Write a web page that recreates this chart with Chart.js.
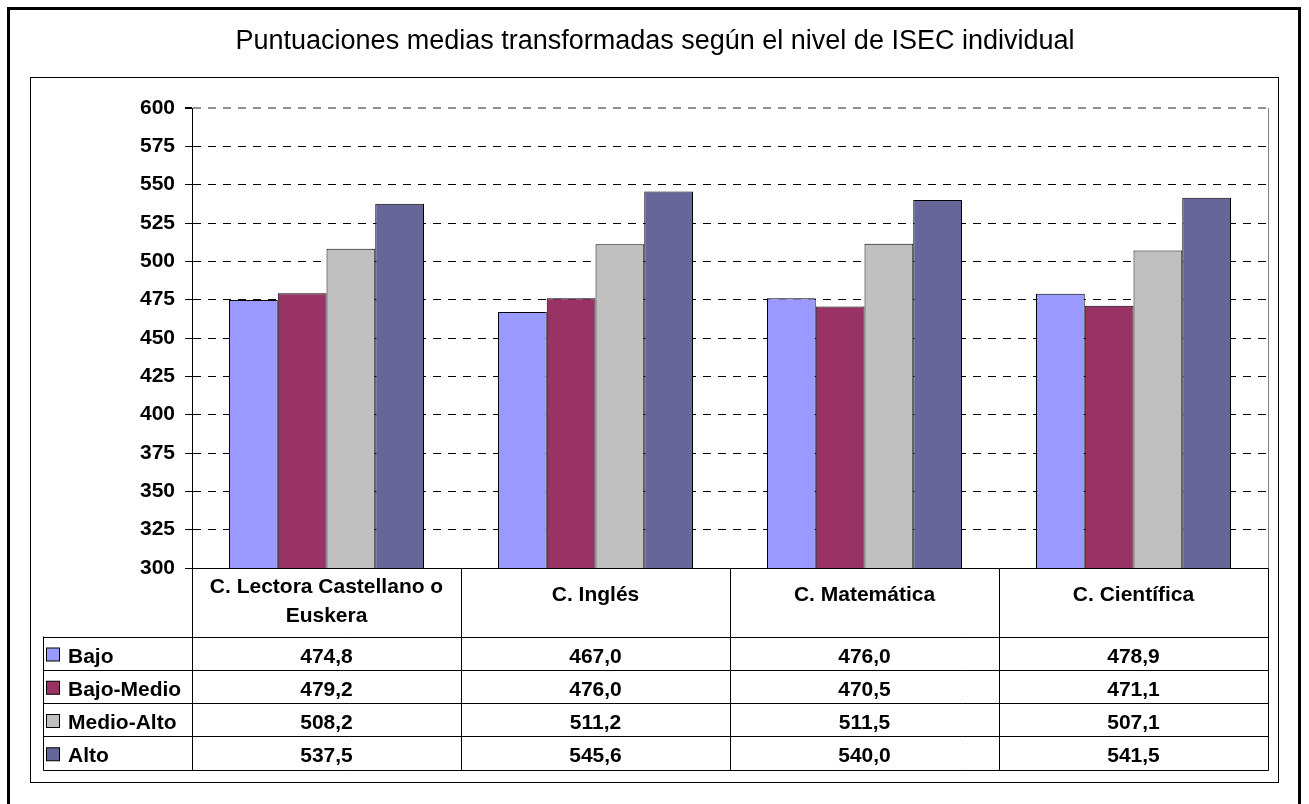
<!DOCTYPE html>
<html>
<head>
<meta charset="utf-8">
<script src="https://cdn.jsdelivr.net/npm/chart.js@4"></script>
<style>
  body { margin: 0; background: #fff; }
  canvas { display: block; }
</style>
</head>
<body>
<canvas id="myChart" width="1309" height="804"></canvas>
<script>
// data
const titleText = 'Puntuaciones medias transformadas según el nivel de ISEC individual';
const categories = [['C. Lectora Castellano o', 'Euskera'], ['C. Inglés'], ['C. Matemática'], ['C. Científica']];
const seriesNames = ['Bajo', 'Bajo-Medio', 'Medio-Alto', 'Alto'];
const bajo = [474.8, 467.0, 476.0, 478.9];
const bajoMedio = [479.2, 476.0, 470.5, 471.1];
const medioAlto = [508.2, 511.2, 511.5, 507.1];
const alto = [537.5, 545.6, 540.0, 541.5];
const yMin = 300, yMax = 600, yStep = 25;
const colors = ['#9999FF', '#993366', '#C0C0C0', '#666699'];

const FONT = 'Arial, "Liberation Sans", sans-serif';
const allSeries = [bajo, bajoMedio, medioAlto, alto];

function fmt(v){
    return v.toFixed(1).replace('.', ',');
}

// draws frames, title and the data table under the plot
const tablePlugin = {
    id: 'tablePlugin',
    beforeDraw(chart){
        const ctx = chart.ctx;
        ctx.save();
        ctx.fillStyle = '#fff';
        ctx.fillRect(0, 0, chart.width, chart.height);
        // outer frame
        ctx.strokeStyle = '#000';
        ctx.lineWidth = 3;
        ctx.strokeRect(8.5, 8.5, 1291, 800);
        // inner frame
        ctx.lineWidth = 1;
        ctx.strokeRect(30.5, 77.5, 1248, 705);
        // title
        ctx.fillStyle = '#000';
        ctx.font = '27px ' + FONT;
        ctx.textAlign = 'center';
        ctx.textBaseline = 'alphabetic';
        ctx.fillText(titleText, 655, 49);
        ctx.restore();
    },
    afterDraw(chart){
        const ctx = chart.ctx;
        const xs = chart.scales.x;
        const area = chart.chartArea;
        const half = (xs.getPixelForValue(1) - xs.getPixelForValue(0)) / 2;
        const top = Math.round(area.bottom) + 0.5;
        const headBottom = 636.5;
        const rowH = 33.25;
        const bottom = headBottom + rowH * seriesNames.length;
        const legendLeft = 43.5;
        const right = Math.round(area.right) + 0.5;

        ctx.save();
        // right edge of plot area
        ctx.strokeStyle = '#808080';
        ctx.lineWidth = 1;
        ctx.beginPath();
        ctx.moveTo(right, area.top);
        ctx.lineTo(right, area.bottom);
        ctx.stroke();

        ctx.strokeStyle = '#000';
        ctx.beginPath();
        // top of table (x axis)
        ctx.moveTo(Math.round(area.left) + 0.5, top);
        ctx.lineTo(right, top);
        // row lines
        for (let r = 0; r <= seriesNames.length; r++) {
            const y = Math.round(headBottom + rowH * r) + 0.5;
            ctx.moveTo(legendLeft, y);
            ctx.lineTo(right, y);
        }
        // column lines
        for (let i = 0; i < categories.length; i++) {
            const x = Math.round(xs.getPixelForValue(i) - half) + 0.5;
            ctx.moveTo(x, top);
            ctx.lineTo(x, Math.round(bottom) + 0.5);
        }
        ctx.moveTo(right, top);
        ctx.lineTo(right, Math.round(bottom) + 0.5);
        ctx.moveTo(legendLeft, headBottom);
        ctx.lineTo(legendLeft, Math.round(bottom) + 0.5);
        ctx.stroke();

        ctx.fillStyle = '#000';
        ctx.font = 'bold 21px ' + FONT;
        ctx.textAlign = 'center';
        ctx.textBaseline = 'alphabetic';
        // category headers
        for (let i = 0; i < categories.length; i++) {
            const cx = xs.getPixelForValue(i);
            const lines = categories[i];
            if (lines.length == 1) {
                ctx.fillText(lines[0], cx, 601);
            } else {
                ctx.fillText(lines[0], cx, 593);
                ctx.fillText(lines[1], cx, 622);
            }
        }
        // values
        for (let r = 0; r < seriesNames.length; r++) {
            const base = headBottom + rowH * r + 26;
            for (let i = 0; i < categories.length; i++) {
                ctx.fillText(fmt(allSeries[r][i]), xs.getPixelForValue(i), base);
            }
        }
        // legend keys
        ctx.textAlign = 'left';
        for (let r = 0; r < seriesNames.length; r++) {
            const base = headBottom + rowH * r + 26;
            ctx.fillStyle = colors[r];
            ctx.fillRect(46.5, base - 14.5, 13, 13);
            ctx.strokeStyle = '#000';
            ctx.strokeRect(46.5, base - 14.5, 13, 13);
            ctx.fillStyle = '#000';
            ctx.fillText(seriesNames[r], 68, base);
        }
        ctx.restore();
    }
};

const data = {
    labels: categories.map(c => c.join(' ')),
    datasets: seriesNames.map((name, i) => ({
        label: name,
        data: allSeries[i],
        backgroundColor: colors[i],
        borderColor: '#000',
        borderWidth: 1,
        borderSkipped: false
    }))
};

const config = {
    type: 'bar',
    data: data,
    options: {
        responsive: false,
        animation: false,
        devicePixelRatio: 1,
        layout: {
            padding: { left: 30, top: 108, right: 41, bottom: 236 }
        },
        datasets: {
            bar: { categoryPercentage: 0.725, barPercentage: 1 }
        },
        plugins: {
            legend: { display: false },
            title: { display: false },
            tooltip: { enabled: false }
        },
        scales: {
            x: {
                ticks: { display: false },
                grid: { display: false },
                border: { display: false },
                afterFit(scale){ scale.height = 0; }
            },
            y: {
                min: yMin,
                max: yMax,
                ticks: {
                    stepSize: yStep,
                    color: '#000',
                    padding: 10,
                    font: { family: FONT, size: 21, weight: 'bold' }
                },
                grid: {
                    color: ctx => (ctx.tick && ctx.tick.value == yMax) ? '#909090' : '#000',
                    lineWidth: ctx => (ctx.tick && ctx.tick.value == yMax) ? 2 : 1,
                    tickLength: 7,
                    tickColor: '#000'
                },
                border: { color: '#000', width: 1, dash: [8, 7] },
                afterFit(scale){ scale.width = 162; }
            }
        }
    },
    plugins: [tablePlugin]
};

const myChart = new Chart(document.getElementById('myChart'), config);
</script>
</body>
</html>
